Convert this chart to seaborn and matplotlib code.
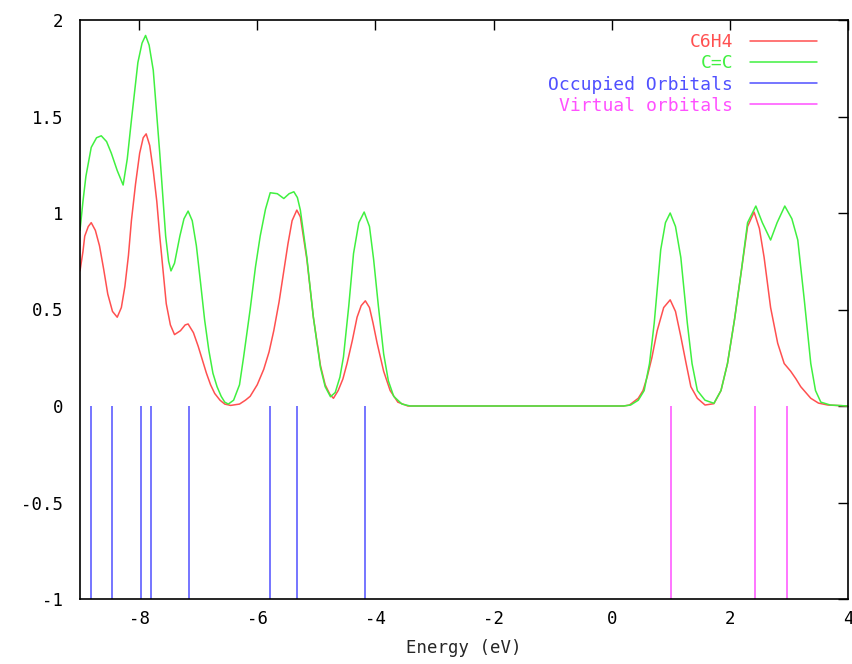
import pandas as pd
import seaborn as sns
import matplotlib.pyplot as plt
from matplotlib.lines import Line2D

# Density of states
c6h4_energy = [-9.00, -8.95, -8.92, -8.86, -8.81, -8.74, -8.67, -8.60, -8.53, -8.45,
               -8.37, -8.30, -8.24, -8.18, -8.13, -8.06, -7.99, -7.93, -7.88, -7.82,
               -7.76, -7.70, -7.65, -7.54, -7.47, -7.40, -7.30, -7.22, -7.17, -7.08,
               -7.00, -6.93, -6.86, -6.79, -6.72, -6.63, -6.55, -6.45, -6.30, -6.20,
               -6.12, -6.00, -5.89, -5.80, -5.72, -5.63, -5.55, -5.48, -5.41, -5.33,
               -5.27, -5.16, -5.05, -4.93, -4.85, -4.77, -4.71, -4.63, -4.55, -4.48,
               -4.39, -4.31, -4.24, -4.17, -4.10, -4.04, -3.97, -3.86, -3.75, -3.62,
               -3.45, 0.20, 0.30, 0.45, 0.53, 0.60, 0.68, 0.77, 0.88, 0.99,
               1.08, 1.17, 1.26, 1.34, 1.45, 1.58, 1.73, 1.85, 1.96, 2.08,
               2.19, 2.30, 2.41, 2.50, 2.58, 2.69, 2.81, 2.92, 3.03, 3.12,
               3.20, 3.37, 3.50, 3.66, 4.00]
c6h4_dos = [0.70, 0.80, 0.88, 0.93, 0.95, 0.91, 0.83, 0.71, 0.58, 0.49,
            0.46, 0.51, 0.62, 0.78, 0.96, 1.15, 1.31, 1.39, 1.41, 1.35,
            1.22, 1.06, 0.88, 0.53, 0.42, 0.37, 0.39, 0.42, 0.425, 0.38,
            0.31, 0.24, 0.17, 0.11, 0.065, 0.03, 0.01, 0.003, 0.01, 0.03,
            0.05, 0.11, 0.19, 0.28, 0.39, 0.54, 0.70, 0.84, 0.96, 1.015,
            0.98, 0.76, 0.46, 0.21, 0.11, 0.06, 0.04, 0.08, 0.14, 0.22,
            0.34, 0.46, 0.52, 0.545, 0.51, 0.43, 0.325, 0.18, 0.08, 0.02,
            0.0, 0.0, 0.005, 0.04, 0.08, 0.15, 0.25, 0.39, 0.51, 0.55,
            0.49, 0.36, 0.22, 0.10, 0.04, 0.005, 0.012, 0.08, 0.22, 0.45,
            0.69, 0.93, 1.005, 0.92, 0.77, 0.51, 0.325, 0.22, 0.18, 0.14,
            0.10, 0.04, 0.015, 0.005, 0.0]

cc_energy = [-9.00, -8.95, -8.90, -8.81, -8.72, -8.64, -8.55, -8.47, -8.37, -8.27,
             -8.20, -8.13, -8.02, -7.95, -7.89, -7.83, -7.76, -7.65, -7.55, -7.50,
             -7.46, -7.40, -7.31, -7.24, -7.17, -7.10, -7.03, -6.96, -6.89, -6.82,
             -6.75, -6.68, -6.61, -6.55, -6.49, -6.40, -6.30, -6.23, -6.12, -6.03,
             -5.95, -5.86, -5.78, -5.66, -5.55, -5.46, -5.38, -5.32, -5.27, -5.16,
             -5.05, -4.93, -4.85, -4.76, -4.68, -4.60, -4.54, -4.45, -4.37, -4.28,
             -4.19, -4.10, -4.03, -3.95, -3.86, -3.78, -3.69, -3.55, -3.41, 0.20,
             0.32, 0.45, 0.55, 0.64, 0.72, 0.83, 0.91, 0.99, 1.08, 1.17,
             1.28, 1.36, 1.45, 1.58, 1.73, 1.85, 1.96, 2.08, 2.19, 2.30,
             2.44, 2.55, 2.69, 2.80, 2.93, 3.05, 3.15, 3.26, 3.37, 3.45,
             3.54, 3.70, 4.00]
cc_dos = [0.91, 1.06, 1.19, 1.34, 1.39, 1.40, 1.37, 1.31, 1.22, 1.145,
          1.28, 1.48, 1.78, 1.88, 1.92, 1.87, 1.74, 1.31, 0.88, 0.75,
          0.70, 0.74, 0.88, 0.97, 1.01, 0.96, 0.83, 0.64, 0.445, 0.29,
          0.17, 0.10, 0.05, 0.02, 0.01, 0.03, 0.11, 0.255, 0.50, 0.72,
          0.88, 1.02, 1.105, 1.10, 1.075, 1.10, 1.11, 1.08, 1.015, 0.77,
          0.46, 0.20, 0.10, 0.048, 0.07, 0.15, 0.255, 0.52, 0.79, 0.95,
          1.005, 0.93, 0.76, 0.52, 0.27, 0.13, 0.05, 0.01, 0.0, 0.0,
          0.005, 0.03, 0.08, 0.22, 0.43, 0.81, 0.95, 1.00, 0.93, 0.77,
          0.43, 0.22, 0.08, 0.03, 0.014, 0.08, 0.22, 0.45, 0.69, 0.95,
          1.036, 0.95, 0.86, 0.95, 1.036, 0.97, 0.86, 0.55, 0.22, 0.08,
          0.02, 0.005, 0.0]

occupied = [-8.82, -8.45, -7.97, -7.80, -7.15, -5.79, -5.32, -4.17]
virtual = [1.00, 2.42, 2.96]

labels = ['C6H4', 'C=C', 'Occupied Orbitals', 'Virtual orbitals']
colors = ['#ff5050', '#40f040', '#5050ff', '#ff50ff']

df = pd.concat([
    pd.DataFrame({'Energy': c6h4_energy, 'DOS': c6h4_dos, 'series': 'C6H4'}),
    pd.DataFrame({'Energy': cc_energy, 'DOS': cc_dos, 'series': 'C=C'}),
])

sns.set_style('white')
plt.rcParams['font.family'] = ['DejaVu Sans Mono']
plt.rcParams['axes.unicode_minus'] = False

fig = plt.figure(figsize=(8.53, 6.64), dpi=100)
ax = fig.add_axes([80 / 853, 1 - 599 / 664, 768 / 853, 579 / 664])

sns.lineplot(data=df, x='Energy', y='DOS', hue='series', palette=colors[:2],
             estimator=None, sort=False, linewidth=1.1, legend=False, ax=ax)
ax.vlines(occupied, -1, 0, color=colors[2], linewidth=1.1)
ax.vlines(virtual, -1, 0, color=colors[3], linewidth=1.1)

ax.set_xlim(-9, 4)
ax.set_ylim(-1, 2)
ax.set_xticks([-8, -6, -4, -2, 0, 2, 4])
ax.set_yticks([-1, -0.5, 0, 0.5, 1, 1.5, 2])
ax.set_yticklabels(['-1', '-0.5', '0', '0.5', '1', '1.5', '2'])
ax.tick_params(direction='in', length=7, width=1, top=True, right=True,
               labelsize=12.5, colors='black')
ax.tick_params(axis='y', pad=12)
ax.tick_params(axis='x', pad=8)
for s in ax.spines.values():
    s.set_color('black')
    s.set_linewidth(1.2)
ax.set_xlabel('Energy (eV)', fontsize=12.5, labelpad=8)
ax.set_ylabel('')

handles = [Line2D([], [], color=c, linewidth=1.1) for c in colors]
ax.legend(handles, labels, loc='upper right',
          bbox_to_anchor=(817 / 853, 1 - 33 / 664), bbox_transform=fig.transFigure,
          frameon=False, markerfirst=False, labelcolor=colors, fontsize=13,
          handlelength=3.7, handletextpad=0.95, labelspacing=0.18,
          borderaxespad=0, borderpad=0)

fig.savefig('out.png', dpi=100)
